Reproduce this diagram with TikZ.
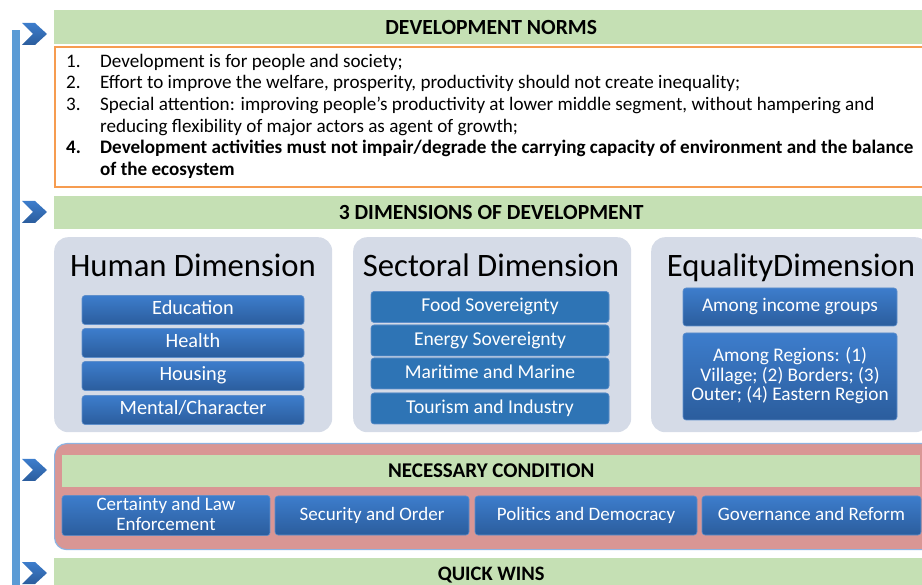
\documentclass[tikz,border=0pt]{standalone}
\usepackage{fontspec}
\setmainfont{Carlito}
\usepackage{tikz}
\usetikzlibrary{shadings}
\definecolor{xanhla}{HTML}{C5E0B4}
\definecolor{cam}{HTML}{F69C50}
\definecolor{thanhxanh}{HTML}{5B9BD5}
\definecolor{xamxanh}{HTML}{D5DBE7}
\definecolor{hong}{HTML}{D99694}
\definecolor{vienhong}{HTML}{8DB3E2}
\definecolor{xanhtren}{HTML}{3D7DCC}
\definecolor{xanhduoi}{HTML}{2B5D9D}
\definecolor{xanhphang}{HTML}{2E74B5}
\definecolor{vienxanh}{HTML}{5F8FCB}
\newcommand{\demdong}{\rule[-5pt]{0pt}{19.6pt}}

\begin{document}
\begin{tikzpicture}[x=1pt,y=-1pt,
        tieude/.style={fill=xanhla, anchor=west, minimum width=874, minimum height=34, inner sep=0, font=\fontsize{21.6}{24}\selectfont\bfseries},
        hopdim/.style={fill=xamxanh, rounded corners=14pt, anchor=north west, minimum width=278, minimum height=195},
        tenhop/.style={anchor=base, font=\fontsize{32.7}{36}\selectfont, inner sep=0},
        hopxanh/.style={top color=xanhtren, bottom color=xanhduoi, draw=vienxanh, line width=0.6pt, rounded corners=3pt, text=white, align=center, inner sep=0, font=\fontsize{19.3}{19.5}\selectfont},
        hopphang/.style={hopxanh, fill=xanhphang, top color=xanhphang, bottom color=xanhphang},
        chevron/.style={top color=xanhtren, bottom color=xanhduoi, draw=none}]

        \useasboundingbox (0,0) rectangle (922,585);
        \clip (0,0) rectangle (922,585);

        % Thanh doc ben trai va cac mui ten
        \fill[thanhxanh] (12,30) rectangle (20,590);
        \foreach \y in {34,212,470,573}
            \shade[chevron] (22,\y-11) -- (35,\y-11) -- (47,\y) -- (35,\y+11) -- (22,\y+11) -- (33,\y) -- cycle;

        % Chuan muc phat trien
        \node[tieude] (chuan) at (54,27) {DEVELOPMENT NORMS};
        \node[draw=cam, line width=2.2pt, fill=white, anchor=north west, minimum width=880, minimum height=140] (khung) at (54,46) {};
        \node[anchor=north west, inner sep=0, font=\fontsize{19.1}{21.6}\selectfont] (ds) at (66,52) {%
            \begin{tabular}{@{}p{34pt}@{}l@{}}
            1. & Development is for people and society;\\
            2. & Effort to improve the welfare, prosperity, productivity should not create inequality;\\
            3. & Special attention: improving people’s productivity at lower middle segment, without hampering and\\
               & reducing flexibility of major actors as agent of growth;\\
            \textbf{4.} & \textbf{Development activities must not impair/degrade the carrying capacity of environment and the balance}\\
               & \textbf{of the ecosystem}
            \end{tabular}};

        % Ba chieu phat trien
        \node[tieude, minimum height=33] (bachieu) at (54,212.5) {3 DIMENSIONS OF DEVELOPMENT};
        \node[hopdim] (nguoi) at (54,237) {};
        \node[hopdim] (nganh) at (353,237) {};
        \node[hopdim] (binhdang) at (651,237) {};
        \node[tenhop] (tnguoi) at (193,276.5) {Human Dimension};
        \node[tenhop] (tnganh) at (491,276.5) {Sectoral Dimension};
        \node[tenhop] (tbinhdang) at (791,276.5) {EqualityDimension};

        \foreach \y/\ten [count=\i] in {310/Education, 343/Health, 376/Housing, 410/{Mental/Character}}
            \node[hopxanh, minimum width=222, minimum height=29, font=\fontsize{20.3}{20.5}\selectfont] (nguoi-\i) at (193,\y) {\demdong\ten};
        \foreach \y/\ten [count=\i] in {307/Food Sovereignty, 340.5/Energy Sovereignty, 373.5/Maritime and Marine, 408.5/Tourism and Industry}
            \node[hopphang, minimum width=238, minimum height=31, font=\fontsize{19.6}{20}\selectfont] (nganh-\i) at (490,\y) {\demdong\ten};
        \node[hopxanh, minimum width=214, minimum height=38] (bd-1) at (790,307) {\demdong Among income groups};
        \node[hopxanh, minimum width=214, minimum height=87] (bd-2) at (790,376.5) {\demdong Among Regions: (1)\\Village; (2) Borders; (3)\\Outer; (4) Eastern Region\demdong};

        % Dieu kien can
        \node[fill=hong, draw=vienhong, line width=1.2pt, rounded corners=12pt, anchor=north west, minimum width=880, minimum height=106] (dieukien) at (54,443) {};
        \node[tieude, minimum width=858, minimum height=32, font=\fontsize{21}{24}\selectfont\bfseries] (tdk) at (62,471) {NECESSARY CONDITION};
        \node[hopxanh, minimum width=208, minimum height=39, font=\fontsize{19}{19}\selectfont] (dk-1) at (166,515.5) {\demdong Certainty and Law\\Enforcement\demdong};
        \node[hopxanh, minimum width=194, minimum height=39, font=\fontsize{19}{19}\selectfont] (dk-2) at (372,515.5) {\demdong Security and Order};
        \node[hopxanh, minimum width=222, minimum height=39, font=\fontsize{19}{19}\selectfont] (dk-3) at (586,515.5) {\demdong Politics and Democracy};
        \node[hopxanh, minimum width=219, minimum height=39, font=\fontsize{19}{19}\selectfont] (dk-4) at (811.5,515.5) {\demdong Governance and Reform};

        % Thang loi nhanh
        \node[tieude, font=\fontsize{20.5}{24}\selectfont\bfseries] (nhanh) at (54,575) {QUICK WINS};

\end{tikzpicture}
\end{document}
